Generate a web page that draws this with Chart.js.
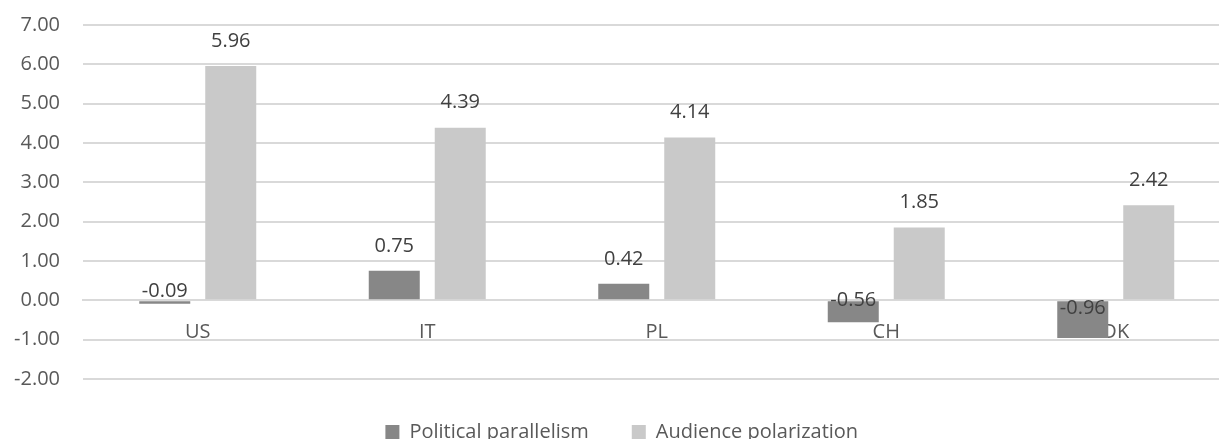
<!DOCTYPE html>
<html>
<head>
<meta charset="utf-8">
<script src="https://cdn.jsdelivr.net/npm/chart.js@4/dist/chart.umd.min.js"></script>
<style>
  html, body { margin: 0; padding: 0; background: #fff; overflow: hidden; }
  #wrap { width: 1219px; height: 439px; overflow: hidden; position: relative; }
  #box { width: 1240px; height: 452px; position: absolute; left: 0; top: 0; }
</style>
</head>
<body>
<div id="wrap"><div id="box"><canvas id="c"></canvas></div></div>
<script>
// Countries on the category axis
const countries = ['US', 'IT', 'PL', 'CH', 'DK'];
// Series values
const politicalParallelism = [-0.09, 0.75, 0.42, -0.56, -0.96];
const audiencePolarization = [5.96, 4.39, 4.14, 1.85, 2.42];
// Value axis range and step
const yMin = -2, yMax = 7, yStep = 1;

const FONT = '"Open Sans", "Noto Sans", sans-serif';

// Writes each bar's value next to it
const valueLabels = {
  id: 'valueLabels',
  afterDatasetsDraw(chart) {
    const ctx = chart.ctx;
    const base = chart.scales.y.getPixelForValue(0);
    ctx.save();
    ctx.font = '20px ' + FONT;
    ctx.fillStyle = '#404040';
    ctx.textAlign = 'center';
    ctx.textBaseline = 'middle';
    chart.data.datasets.forEach((ds, i) => {
      const meta = chart.getDatasetMeta(i);
      meta.data.forEach((bar, j) => {
        const v = ds.data[j];
        const y = v >= 0 ? bar.y - 25 : (base + bar.y) / 2 - 11;
        ctx.fillText(v.toFixed(2), bar.x, y);
      });
    });
    ctx.restore();
  }
};

new Chart(document.getElementById('c'), {
  type: 'bar',
  data: {
    labels: countries,
    datasets: [
      { label: 'Political parallelism', data: politicalParallelism,
        backgroundColor: '#878787', categoryPercentage: 0.575, barPercentage: 0.773 },
      { label: 'Audience polarization', data: audiencePolarization,
        backgroundColor: '#c9c9c9', categoryPercentage: 0.575, barPercentage: 0.773 }
    ]
  },
  options: {
    responsive: true,
    maintainAspectRatio: false,
    animation: false,
    layout: { padding: { left: 13, right: 9.5, top: 25, bottom: 0 } },
    plugins: {
      tooltip: { enabled: false },
      legend: {
        position: 'bottom',
        labels: {
          font: { family: FONT, size: 20 },
          color: '#595959',
          boxWidth: 14,
          boxHeight: 14,
          padding: 43
        }
      }
    },
    scales: {
      x: {
        position: { y: 0 },
        grid: { display: false, drawTicks: false },
        border: { display: true, color: '#d9d9d9', width: 2 },
        ticks: { font: { family: FONT, size: 20 }, color: '#595959', padding: 20 }
      },
      y: {
        min: yMin, max: yMax,
        afterFit(scale) {
          scale.width = 70;
          scale.paddingTop = 0;
          scale.paddingBottom = 0;
        },
        grid: { color: '#d9d9d9', lineWidth: 2, drawTicks: false },
        border: { display: false },
        ticks: {
          stepSize: yStep,
          padding: 23,
          font: { family: FONT, size: 20 },
          color: '#595959',
          callback: v => Number(v).toFixed(2)
        }
      }
    }
  },
  plugins: [valueLabels]
});
</script>
</body>
</html>
